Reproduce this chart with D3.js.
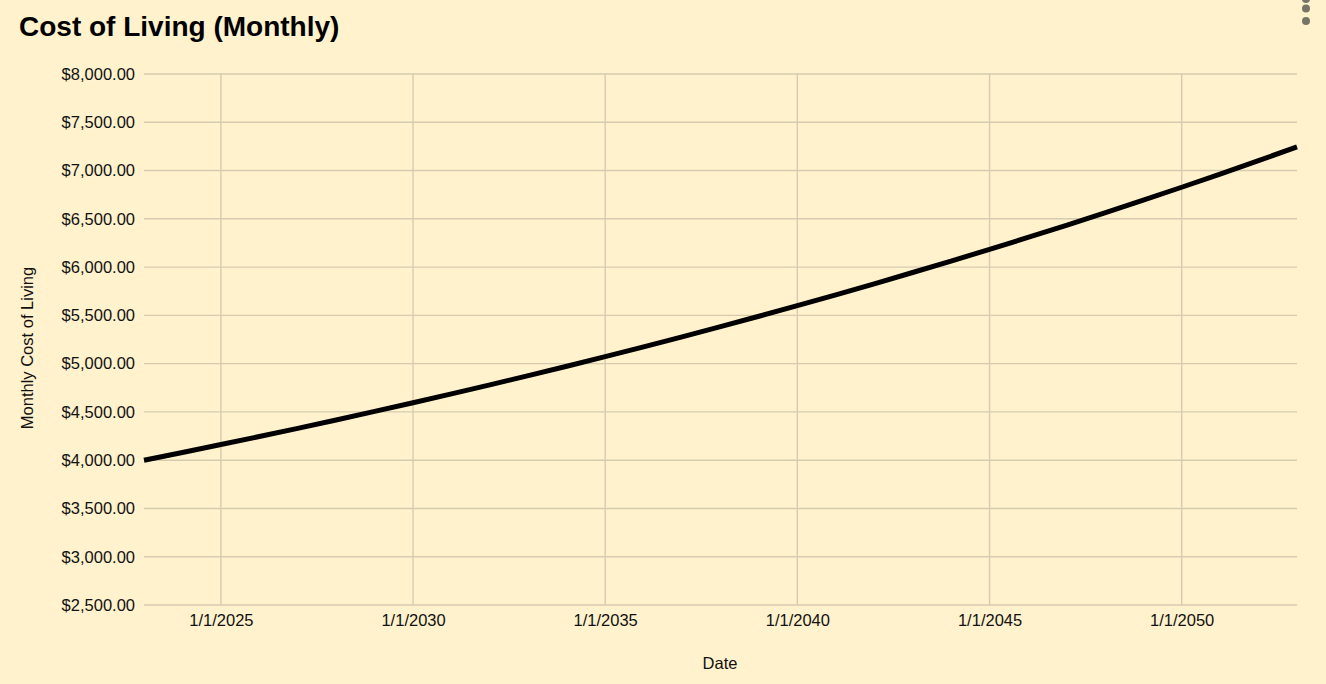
<!DOCTYPE html>
<html><head><meta charset="utf-8">
<script src="https://cdn.jsdelivr.net/npm/d3@7"></script>
<style>
html,body{margin:0;padding:0;background:#fff2cc;}
svg{display:block;font-family:"Liberation Sans",Arial,sans-serif;}
</style></head>
<body>
<svg id="chart" width="1326" height="684"></svg>
<script>
const years = [2023,2024,2025,2026,2027,2028,2029,2030,2031,2032,2033,2034,2035,2036,2037,2038,2039,2040,2041,2042,2043,2044,2045,2046,2047,2048,2049,2050,2051,2052,2053];
const costs = [4000,4080,4162,4245,4330,4416,4505,4595,4687,4780,4876,4973,5073,5174,5278,5383,5491,5601,5713,5827,5944,6062,6184,6307,6433,6562,6693,6827,6964,7103,7245];
const yTicks = [2500,3000,3500,4000,4500,5000,5500,6000,6500,7000,7500,8000];
const xTickYears = [2025,2030,2035,2040,2045,2050];
const title = "Cost of Living (Monthly)";
const xTitle = "Date";
const yTitle = "Monthly Cost of Living";

(function(){
const svg = d3.select("#chart");
const pl = 144, pr = 1297, pt = 74, pb = 605;
const x = d3.scaleTime().domain([new Date(2023,0,1), new Date(2053,0,1)]).range([pl,pr]);
const y = d3.scaleLinear().domain([2500,8000]).range([pb,pt]);
const grid = "#d6cbb0";
const fs = 16.5;

svg.append("g").selectAll("line").data(yTicks).join("line")
  .attr("x1",pl).attr("x2",pr).attr("y1",d=>y(d)).attr("y2",d=>y(d))
  .attr("stroke",grid).attr("stroke-width",1.4);
svg.append("g").selectAll("line").data(xTickYears).join("line")
  .attr("x1",d=>x(new Date(d,0,1))).attr("x2",d=>x(new Date(d,0,1)))
  .attr("y1",pt).attr("y2",pb)
  .attr("stroke",grid).attr("stroke-width",1.4);

const fmt = d3.format("$,.2f");
const yAxis = d3.axisLeft(y).tickValues(yTicks).tickFormat(fmt).tickSize(0).tickPadding(9);
const ga = svg.append("g").attr("transform",`translate(${pl},0)`).call(yAxis);
ga.select(".domain").remove();
ga.selectAll("text").attr("font-size",fs).attr("fill","#111").attr("font-family","Liberation Sans, Arial, sans-serif");

const xAxis = d3.axisBottom(x).tickValues(xTickYears.map(d=>new Date(d,0,1)))
  .tickFormat(d=>`1/1/${d.getFullYear()}`).tickSize(0).tickPadding(9);
const gx = svg.append("g").attr("transform",`translate(0,${pb})`).call(xAxis);
gx.select(".domain").remove();
gx.selectAll("text").attr("font-size",fs).attr("fill","#111").attr("font-family","Liberation Sans, Arial, sans-serif");

const line = d3.line().x((d,i)=>x(new Date(years[i],0,1))).y(d=>y(d));
svg.append("path").datum(costs).attr("d",line).attr("fill","none")
  .attr("stroke","#000").attr("stroke-width",5).attr("stroke-linejoin","round");

svg.append("text").attr("x",19).attr("y",36).text(title)
  .attr("font-size",28).attr("font-weight","bold").attr("fill","#000");
svg.append("text").attr("x",720).attr("y",669).attr("text-anchor","middle")
  .attr("font-size",fs).attr("fill","#111").text(xTitle);
svg.append("text").attr("transform","translate(33,348) rotate(-90)").attr("text-anchor","middle")
  .attr("font-size",fs).attr("fill","#111").text(yTitle);

svg.append("g").selectAll("circle").data([-1,8.5,21]).join("circle")
  .attr("cx",1306).attr("cy",d=>d).attr("r",4).attr("fill","#7a7468");
})();
</script>
</body></html>
